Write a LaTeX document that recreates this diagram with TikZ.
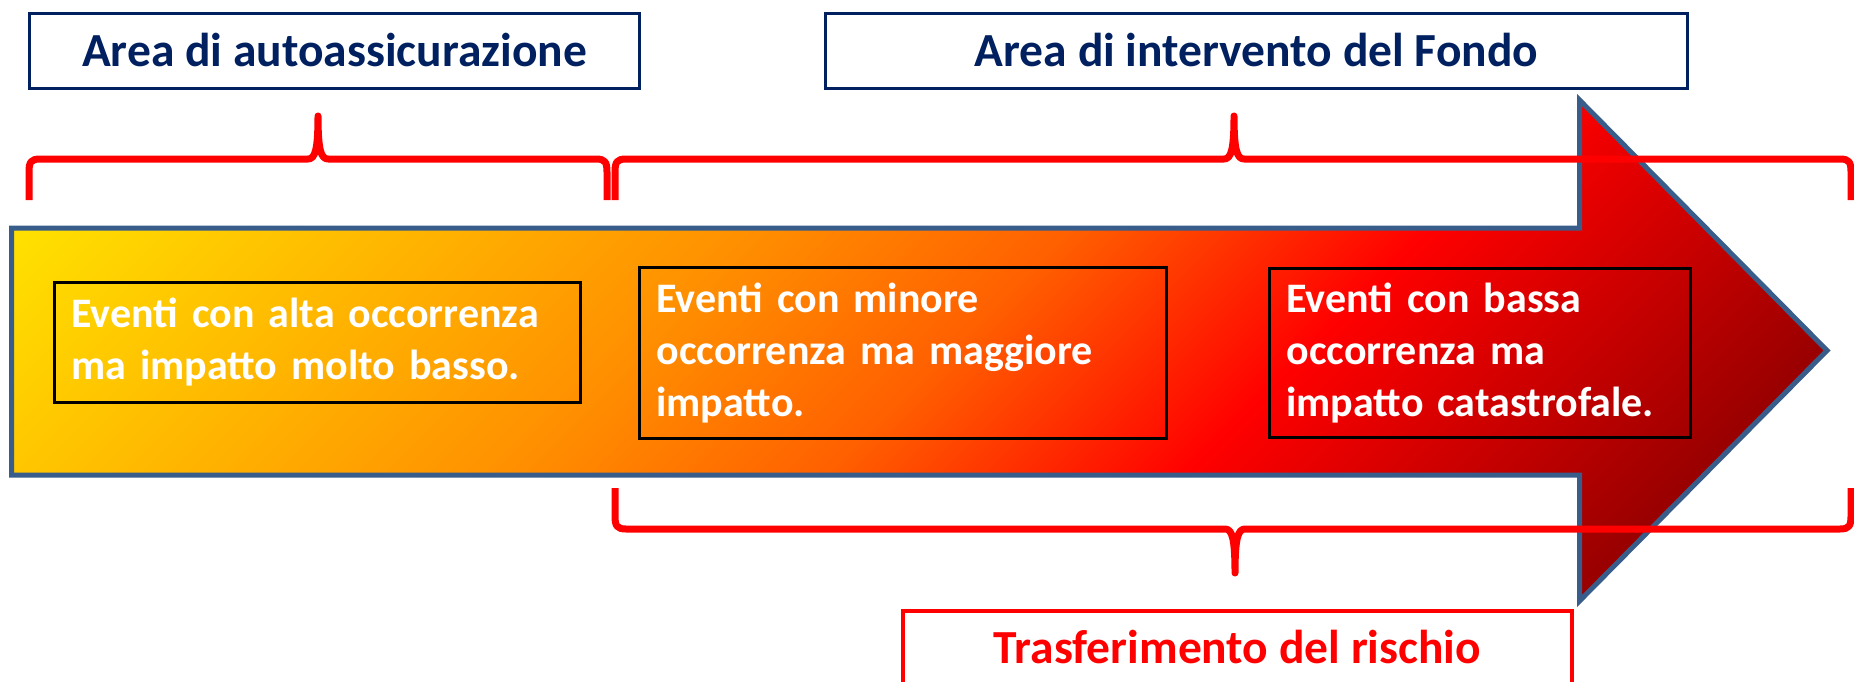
\documentclass[tikz,border=0pt]{standalone}
\usepackage{fontspec}
\setmainfont{Carlito}
\usepackage{tikz}

\definecolor{navyblue}{HTML}{002060}
\definecolor{arrowedge}{HTML}{385D8A}
\definecolor{fireyellow}{HTML}{FFE200}
\definecolor{fireorange}{HTML}{FF9000}
\definecolor{firemid}{HTML}{FF6000}
\definecolor{firered}{HTML}{FF0000}
\definecolor{firedark}{HTML}{800000}

% colours along the diagonal of the arrow (25bp..75bp = whole band)
\pgfdeclarehorizontalshading{fire}{100bp}{color(0bp)=(fireyellow); color(27.9bp)=(fireyellow); color(43.3bp)=(fireorange); color(50bp)=(firemid); color(57.5bp)=(firered); color(70.8bp)=(firedark); color(100bp)=(firedark)}

\begin{document}
\begin{tikzpicture}[x=1pt,y=-1pt,
            topbox/.style={
                draw=navyblue,
                line width=3pt,
                text=navyblue,
                font=\fontsize{47.5}{56}\selectfont\bfseries,
                text height=34pt,
                text depth=2pt,
                inner sep=0pt,
                },
            eventbox/.style={
                draw=black,
                line width=3pt,
                text=white,
                font=\fontsize{42}{52}\selectfont\bfseries,
                align=left,
                inner xsep=17pt,
                inner ysep=0pt,
                },
            riskbox/.style={
                draw=red,
                line width=4pt,
                text=red,
                font=\fontsize{47.5}{56}\selectfont\bfseries,
                text height=34pt,
                text depth=8pt,
                inner sep=0pt,
                },
            brace/.style={
                draw=red,
                line width=7pt,
                line join=round,
                },
            arrowline/.style={
                draw=arrowedge,
                line width=5pt,
                }]

        \useasboundingbox (0,0) rectangle (1854,682);

        % big arrow
        \begin{scope}
            \clip (11.5,228) -- (1579.5,228) -- (1579.5,100) -- (1827,350.5) -- (1579.5,601) -- (1579.5,475) -- (11.5,475) -- cycle;
            \begin{scope}[transform canvas={rotate=-45}]
                \shade[shading=fire] (70.7,-1100) rectangle (1767.8,400);
            \end{scope}
        \end{scope}
        \draw[arrowline] (11.5,228) -- (1579.5,228) -- (1579.5,100) -- (1827,350.5) -- (1579.5,601) -- (1579.5,475) -- (11.5,475) -- cycle;

        \node[eventbox, text width=492pt, minimum height=120pt] (evlow) at (317.5,342.5) {Eventi con alta occorrenza\\ma impatto molto basso.};
        \node[eventbox, text width=493pt, minimum height=171pt] (evmid) at (903,353) {Eventi con minore\\occorrenza ma maggiore\\impatto.};
        \node[eventbox, text width=387pt, minimum height=169pt] (evcat) at (1480,353) {Eventi con bassa\\occorrenza ma\\impatto catastrofale.};

        % braces
        \draw[brace] (29,200) -- (29,172) .. controls (29,162) and (31,159) .. (40,159) -- (308,159) .. controls (315,159) and (318,150) .. (318,116) .. controls (318,150) and (321,159) .. (328,159) -- (596,159) .. controls (605,159) and (607,162) .. (607,172) -- (607,200);
        \draw[brace] (615,200) -- (615,172) .. controls (615,162) and (617,159) .. (626,159) -- (1224,159) .. controls (1231,159) and (1234,150) .. (1234,116) .. controls (1234,150) and (1237,159) .. (1244,159) -- (1840,159) .. controls (1849,159) and (1851,162) .. (1851,172) -- (1851,200);
        \draw[brace] (615,488) -- (615,516) .. controls (615,526) and (617,529) .. (626,529) -- (1225,529) .. controls (1232,529) and (1235,538) .. (1235,573) .. controls (1235,538) and (1238,529) .. (1245,529) -- (1840,529) .. controls (1849,529) and (1851,526) .. (1851,516) -- (1851,488);

        \node[topbox, minimum width=610pt, minimum height=75pt] (selfins) at (334.5,51) {Area di autoassicurazione};
        \node[topbox, minimum width=862pt, minimum height=75pt] (fundarea) at (1256.5,51) {Area di intervento del Fondo};
        \node[riskbox, minimum width=669pt, minimum height=79pt] (risktransfer) at (1237.5,650.5) {Trasferimento del rischio};

    \end{tikzpicture}
\end{document}
